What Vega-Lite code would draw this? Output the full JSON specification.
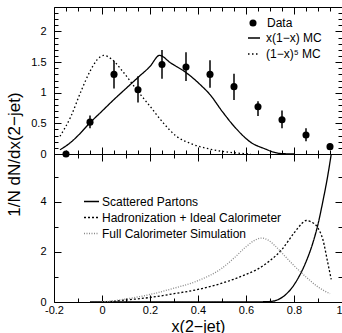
{
  "$schema": "https://vega.github.io/schema/vega-lite/v6.json",
  "padding": {"left": 5, "top": 6, "right": 2, "bottom": 0},
  "spacing": 0,
  "bounds": "flush",
  "config": {
    "view": {"stroke": null},
    "font": "Liberation Sans",
    "axis": {"domainColor": "black", "tickColor": "black", "domainWidth": 1, "tickWidth": 1, "labelFont": "Liberation Sans", "labelFontSize": 11, "labelColor": "black", "grid": false, "labelOverlap": false, "labelFlush": false, "titleFont": "Liberation Sans", "titleFontWeight": "normal", "titleColor": "black"},
    "legend": {"labelFont": "Liberation Sans", "labelColor": "black", "labelFontSize": 12, "padding": 0, "title": null, "labelLimit": 400}
  },
  "datasets": {
    "pts": [
      {"x": -0.15, "y": 0, "lo": 0, "hi": 0, "series": "Data"},
      {"x": -0.05, "y": 0.52, "lo": 0.42, "hi": 0.63, "series": "Data"},
      {"x": 0.05, "y": 1.30, "lo": 1.07, "hi": 1.52, "series": "Data"},
      {"x": 0.15, "y": 1.05, "lo": 0.84, "hi": 1.27, "series": "Data"},
      {"x": 0.25, "y": 1.46, "lo": 1.23, "hi": 1.70, "series": "Data"},
      {"x": 0.35, "y": 1.42, "lo": 1.19, "hi": 1.66, "series": "Data"},
      {"x": 0.45, "y": 1.30, "lo": 1.08, "hi": 1.53, "series": "Data"},
      {"x": 0.55, "y": 1.10, "lo": 0.88, "hi": 1.31, "series": "Data"},
      {"x": 0.65, "y": 0.77, "lo": 0.62, "hi": 0.86, "series": "Data"},
      {"x": 0.75, "y": 0.56, "lo": 0.42, "hi": 0.71, "series": "Data"},
      {"x": 0.85, "y": 0.31, "lo": 0.21, "hi": 0.42, "series": "Data"},
      {"x": 0.95, "y": 0.12, "lo": 0.08, "hi": 0.17, "series": "Data"}
    ],
    "mc": [
      {"x": -0.175, "y": 0.07, "series": "x(1−x) MC"},
      {"x": -0.14, "y": 0.16, "series": "x(1−x) MC"},
      {"x": -0.1, "y": 0.30, "series": "x(1−x) MC"},
      {"x": -0.05, "y": 0.51, "series": "x(1−x) MC"},
      {"x": 0.0, "y": 0.70, "series": "x(1−x) MC"},
      {"x": 0.05, "y": 0.89, "series": "x(1−x) MC"},
      {"x": 0.1, "y": 1.07, "series": "x(1−x) MC"},
      {"x": 0.15, "y": 1.25, "series": "x(1−x) MC"},
      {"x": 0.2, "y": 1.43, "series": "x(1−x) MC"},
      {"x": 0.24, "y": 1.61, "series": "x(1−x) MC"},
      {"x": 0.285, "y": 1.49, "series": "x(1−x) MC"},
      {"x": 0.35, "y": 1.33, "series": "x(1−x) MC"},
      {"x": 0.41, "y": 1.13, "series": "x(1−x) MC"},
      {"x": 0.45, "y": 0.97, "series": "x(1−x) MC"},
      {"x": 0.5, "y": 0.70, "series": "x(1−x) MC"},
      {"x": 0.56, "y": 0.41, "series": "x(1−x) MC"},
      {"x": 0.62, "y": 0.19, "series": "x(1−x) MC"},
      {"x": 0.675, "y": 0.09, "series": "x(1−x) MC"},
      {"x": 0.74, "y": 0.01, "series": "x(1−x) MC"},
      {"x": 0.8, "y": 0.0, "series": "x(1−x) MC"},
      {"x": -0.175, "y": 0.29, "series": "(1−x)⁵ MC"},
      {"x": -0.13, "y": 0.61, "series": "(1−x)⁵ MC"},
      {"x": -0.09, "y": 1.0, "series": "(1−x)⁵ MC"},
      {"x": -0.05, "y": 1.35, "series": "(1−x)⁵ MC"},
      {"x": -0.02, "y": 1.54, "series": "(1−x)⁵ MC"},
      {"x": 0.007, "y": 1.61, "series": "(1−x)⁵ MC"},
      {"x": 0.04, "y": 1.55, "series": "(1−x)⁵ MC"},
      {"x": 0.09, "y": 1.33, "series": "(1−x)⁵ MC"},
      {"x": 0.15, "y": 1.02, "series": "(1−x)⁵ MC"},
      {"x": 0.2, "y": 0.78, "series": "(1−x)⁵ MC"},
      {"x": 0.257, "y": 0.50, "series": "(1−x)⁵ MC"},
      {"x": 0.31, "y": 0.29, "series": "(1−x)⁵ MC"},
      {"x": 0.37, "y": 0.17, "series": "(1−x)⁵ MC"},
      {"x": 0.45, "y": 0.08, "series": "(1−x)⁵ MC"},
      {"x": 0.55, "y": 0.02, "series": "(1−x)⁵ MC"},
      {"x": 0.62, "y": 0.0, "series": "(1−x)⁵ MC"}
    ],
    "b": [
      {"x": -0.05, "y": 0, "series": "Scattered Partons"},
      {"x": 0.6, "y": 0, "series": "Scattered Partons"},
      {"x": 0.7, "y": 0.02, "series": "Scattered Partons"},
      {"x": 0.73, "y": 0.08, "series": "Scattered Partons"},
      {"x": 0.76, "y": 0.25, "series": "Scattered Partons"},
      {"x": 0.79, "y": 0.55, "series": "Scattered Partons"},
      {"x": 0.82, "y": 1.0, "series": "Scattered Partons"},
      {"x": 0.85, "y": 1.6, "series": "Scattered Partons"},
      {"x": 0.88, "y": 2.4, "series": "Scattered Partons"},
      {"x": 0.9, "y": 3.1, "series": "Scattered Partons"},
      {"x": 0.92, "y": 4.0, "series": "Scattered Partons"},
      {"x": 0.94, "y": 5.0, "series": "Scattered Partons"},
      {"x": 0.96, "y": 6.2, "series": "Scattered Partons"},
      {"x": 0.0, "y": 0, "series": "Hadronization + Ideal Calorimeter"},
      {"x": 0.05, "y": 0.03, "series": "Hadronization + Ideal Calorimeter"},
      {"x": 0.1, "y": 0.08, "series": "Hadronization + Ideal Calorimeter"},
      {"x": 0.2, "y": 0.18, "series": "Hadronization + Ideal Calorimeter"},
      {"x": 0.3, "y": 0.33, "series": "Hadronization + Ideal Calorimeter"},
      {"x": 0.4, "y": 0.5, "series": "Hadronization + Ideal Calorimeter"},
      {"x": 0.5, "y": 0.75, "series": "Hadronization + Ideal Calorimeter"},
      {"x": 0.6, "y": 1.1, "series": "Hadronization + Ideal Calorimeter"},
      {"x": 0.65, "y": 1.32, "series": "Hadronization + Ideal Calorimeter"},
      {"x": 0.7, "y": 1.65, "series": "Hadronization + Ideal Calorimeter"},
      {"x": 0.75, "y": 2.1, "series": "Hadronization + Ideal Calorimeter"},
      {"x": 0.8, "y": 2.75, "series": "Hadronization + Ideal Calorimeter"},
      {"x": 0.83, "y": 3.1, "series": "Hadronization + Ideal Calorimeter"},
      {"x": 0.85, "y": 3.25, "series": "Hadronization + Ideal Calorimeter"},
      {"x": 0.87, "y": 3.2, "series": "Hadronization + Ideal Calorimeter"},
      {"x": 0.9, "y": 2.95, "series": "Hadronization + Ideal Calorimeter"},
      {"x": 0.92, "y": 2.5, "series": "Hadronization + Ideal Calorimeter"},
      {"x": 0.94, "y": 1.6, "series": "Hadronization + Ideal Calorimeter"},
      {"x": 0.955, "y": 0.9, "series": "Hadronization + Ideal Calorimeter"},
      {"x": 0.0, "y": 0, "series": "Full Calorimeter Simulation"},
      {"x": 0.05, "y": 0.05, "series": "Full Calorimeter Simulation"},
      {"x": 0.1, "y": 0.12, "series": "Full Calorimeter Simulation"},
      {"x": 0.2, "y": 0.3, "series": "Full Calorimeter Simulation"},
      {"x": 0.3, "y": 0.55, "series": "Full Calorimeter Simulation"},
      {"x": 0.4, "y": 0.85, "series": "Full Calorimeter Simulation"},
      {"x": 0.5, "y": 1.35, "series": "Full Calorimeter Simulation"},
      {"x": 0.55, "y": 1.75, "series": "Full Calorimeter Simulation"},
      {"x": 0.6, "y": 2.2, "series": "Full Calorimeter Simulation"},
      {"x": 0.64, "y": 2.48, "series": "Full Calorimeter Simulation"},
      {"x": 0.665, "y": 2.55, "series": "Full Calorimeter Simulation"},
      {"x": 0.69, "y": 2.48, "series": "Full Calorimeter Simulation"},
      {"x": 0.72, "y": 2.25, "series": "Full Calorimeter Simulation"},
      {"x": 0.76, "y": 1.85, "series": "Full Calorimeter Simulation"},
      {"x": 0.8, "y": 1.45, "series": "Full Calorimeter Simulation"},
      {"x": 0.85, "y": 1.0, "series": "Full Calorimeter Simulation"},
      {"x": 0.9, "y": 0.6, "series": "Full Calorimeter Simulation"},
      {"x": 0.95, "y": 0.33, "series": "Full Calorimeter Simulation"}
    ]
  },
  "vconcat": [
    {
      "width": 288,
      "height": 147,
      "layer": [
        {
          "data": {"name": "mc"},
          "mark": {"type": "line", "color": "black", "strokeWidth": 1.3, "interpolate": "monotone"},
          "encoding": {
            "x": {"field": "x", "type": "quantitative", "scale": {"domain": [-0.2, 1], "nice": false, "zero": false},
              "axis": {"orient": "bottom", "title": null, "labels": false,
                "values": [-0.2, -0.15, -0.1, -0.05, 0, 0.05, 0.1, 0.15, 0.2, 0.25, 0.3, 0.35, 0.4, 0.45, 0.5, 0.55, 0.6, 0.65, 0.7, 0.75, 0.8, 0.85, 0.9, 0.95, 1],
                "tickSize": {"condition": {"test": "indexof([-0.2,0,0.2,0.4,0.6,0.8,1], datum.value) >= 0", "value": -7}, "value": -4}}},
            "y": {"field": "y", "type": "quantitative", "scale": {"domain": [0, 2.4], "nice": false},
              "axis": {"orient": "left", "title": "1/N dN/dx(2−jet)", "titleFontSize": 17, "titleX": -40, "titleY": 147, "titleAngle": -90, "titleAlign": "center", "titleBaseline": "middle",
                "values": [0, 0.1, 0.2, 0.3, 0.4, 0.5, 0.6, 0.7, 0.8, 0.9, 1, 1.1, 1.2, 1.3, 1.4, 1.5, 1.6, 1.7, 1.8, 1.9, 2, 2.1, 2.2, 2.3],
                "labelExpr": "indexof([0,0.5,1,1.5,2], datum.value) >= 0 ? '' + datum.value : ''",
                "labelPadding": 15,
                "tickSize": {"condition": {"test": "indexof([0,0.5,1,1.5,2], datum.value) >= 0", "value": -7}, "value": -4}}},
            "strokeDash": {"field": "series", "type": "nominal",
              "scale": {"domain": ["x(1−x) MC", "(1−x)⁵ MC"], "range": [[1, 0], [1.5, 2.5]]},
              "legend": {"orient": "none", "legendX": 193, "legendY": 24, "symbolType": "stroke", "symbolSize": 144, "symbolStrokeColor": "black", "symbolStrokeWidth": 1.3, "labelOffset": 5, "rowPadding": 3}}
          }
        },
        {
          "data": {"name": "pts"},
          "mark": {"type": "rule", "color": "black", "strokeWidth": 1.5},
          "encoding": {
            "x": {"field": "x", "type": "quantitative", "axis": null},
            "y": {"field": "lo", "type": "quantitative", "axis": null},
            "y2": {"field": "hi"}
          }
        },
        {
          "data": {"name": "pts"},
          "mark": {"type": "point", "filled": true, "color": "black", "size": 50, "opacity": 1},
          "encoding": {
            "x": {"field": "x", "type": "quantitative", "axis": null},
            "y": {"field": "y", "type": "quantitative", "axis": null},
            "shape": {"field": "series", "type": "nominal", "scale": {"domain": ["Data"], "range": ["circle"]},
              "legend": {"orient": "none", "legendX": 193, "legendY": 10, "symbolFillColor": "black", "symbolStrokeColor": "black", "symbolSize": 50, "labelOffset": 8}}
          }
        },
        {
          "mark": {"type": "text", "align": "left", "baseline": "middle", "fontSize": 13, "font": "Liberation Sans", "color": "black"},
          "encoding": {
            "x": {"datum": -0.167, "type": "quantitative", "axis": null},
            "y": {"datum": 2.19, "type": "quantitative", "axis": null},
            "text": {"value": "(a)"}
          }
        },
        {
          "mark": {"type": "text", "align": "left", "baseline": "middle", "fontSize": 13, "font": "Liberation Sans", "color": "black"},
          "encoding": {
            "x": {"datum": 0.042, "type": "quantitative", "axis": null},
            "y": {"datum": 2.2, "type": "quantitative", "axis": null},
            "text": {"value": "0.90<Xₚ<0.96"}
          }
        },
        {
          "data": {"name": "pts"},
          "mark": {"type": "point", "opacity": 0},
          "encoding": {
            "x": {"field": "x", "type": "quantitative",
              "axis": {"orient": "top", "title": null, "labels": false,
                "values": [-0.2, -0.15, -0.1, -0.05, 0, 0.05, 0.1, 0.15, 0.2, 0.25, 0.3, 0.35, 0.4, 0.45, 0.5, 0.55, 0.6, 0.65, 0.7, 0.75, 0.8, 0.85, 0.9, 0.95, 1],
                "tickSize": {"condition": {"test": "indexof([-0.2,0,0.2,0.4,0.6,0.8,1], datum.value) >= 0", "value": -7}, "value": -4}}},
            "y": {"field": "y", "type": "quantitative",
              "axis": {"orient": "right", "title": null, "labels": false,
                "values": [0, 0.1, 0.2, 0.3, 0.4, 0.5, 0.6, 0.7, 0.8, 0.9, 1, 1.1, 1.2, 1.3, 1.4, 1.5, 1.6, 1.7, 1.8, 1.9, 2, 2.1, 2.2, 2.3],
                "tickSize": {"condition": {"test": "indexof([0,0.5,1,1.5,2], datum.value) >= 0", "value": -7}, "value": -4}}}
          }
        }
      ],
      "resolve": {"axis": {"x": "independent", "y": "independent"}}
    },
    {
      "width": 288,
      "height": 148,
      "layer": [
        {
          "data": {"name": "b"},
          "mark": {"type": "line", "strokeWidth": 1.3, "interpolate": "monotone", "clip": true},
          "encoding": {
            "x": {"field": "x", "type": "quantitative", "scale": {"domain": [-0.2, 1], "nice": false, "zero": false},
              "axis": {"orient": "bottom", "title": "x(2−jet)", "titleFontSize": 16, "titlePadding": 0,
                "values": [-0.2, -0.1, 0, 0.1, 0.2, 0.3, 0.4, 0.5, 0.6, 0.7, 0.8, 0.9, 1],
                "labelExpr": "indexof([-0.2,0,0.2,0.4,0.6,0.8,1], datum.value) >= 0 ? '' + datum.value : ''",
                "labelAlign": {"condition": {"test": "datum.value == 1", "value": "right"}, "value": "center"},
                "labelPadding": 9,
                "tickSize": {"condition": {"test": "indexof([-0.2,0,0.2,0.4,0.6,0.8,1], datum.value) >= 0", "value": -7}, "value": -4}}},
            "y": {"field": "y", "type": "quantitative", "scale": {"domain": [0, 5.9], "nice": false},
              "axis": {"orient": "left", "title": null,
                "values": [0, 1, 2, 3, 4, 5],
                "labelExpr": "indexof([0,2,4], datum.value) >= 0 ? '' + datum.value : ''",
                "labelPadding": 15,
                "tickSize": {"condition": {"test": "indexof([0,2,4], datum.value) >= 0", "value": -7}, "value": -4}}},
            "color": {"field": "series", "type": "nominal",
              "scale": {"domain": ["Scattered Partons", "Hadronization + Ideal Calorimeter", "Full Calorimeter Simulation"], "range": ["black", "black", "#8a8a8a"]},
              "legend": {"orient": "none", "legendX": 29, "legendY": 39, "symbolType": "stroke", "symbolSize": 225, "symbolStrokeWidth": 1.3, "labelOffset": 2, "rowPadding": 1}},
            "strokeDash": {"field": "series", "type": "nominal",
              "scale": {"domain": ["Scattered Partons", "Hadronization + Ideal Calorimeter", "Full Calorimeter Simulation"], "range": [[1, 0], [2, 2], [1, 1.5]]},
              "legend": {"orient": "none", "legendX": 29, "legendY": 39, "symbolType": "stroke", "symbolSize": 225, "symbolStrokeWidth": 1.3, "labelOffset": 2, "rowPadding": 1}}
          }
        },
        {
          "mark": {"type": "text", "align": "left", "baseline": "middle", "fontSize": 13, "font": "Liberation Sans", "color": "black"},
          "encoding": {
            "x": {"datum": -0.167, "type": "quantitative", "axis": null},
            "y": {"datum": 5.38, "type": "quantitative", "axis": null},
            "text": {"value": "(b)"}
          }
        },
        {
          "mark": {"type": "text", "align": "left", "baseline": "middle", "fontSize": 13, "font": "Liberation Sans", "color": "black"},
          "encoding": {
            "x": {"datum": 0.096, "type": "quantitative", "axis": null},
            "y": {"datum": 4.66, "type": "quantitative", "axis": null},
            "text": {"value": "Xₚ=0.93"}
          }
        },
        {
          "data": {"name": "b"},
          "mark": {"type": "point", "opacity": 0},
          "encoding": {
            "x": {"field": "x", "type": "quantitative",
              "axis": {"orient": "top", "title": null, "labels": false,
                "values": [-0.2, -0.1, 0, 0.1, 0.2, 0.3, 0.4, 0.5, 0.6, 0.7, 0.8, 0.9, 1],
                "tickSize": {"condition": {"test": "indexof([-0.2,0,0.2,0.4,0.6,0.8,1], datum.value) >= 0", "value": -7}, "value": -4}}},
            "y": {"field": "y", "type": "quantitative",
              "axis": {"orient": "right", "title": null, "labels": false,
                "values": [0, 1, 2, 3, 4, 5],
                "tickSize": {"condition": {"test": "indexof([0,2,4], datum.value) >= 0", "value": -7}, "value": -4}}}
          }
        }
      ],
      "resolve": {"axis": {"x": "independent", "y": "independent"}}
    }
  ],
  "resolve": {"scale": {"color": "independent", "strokeDash": "independent", "shape": "independent", "x": "independent", "y": "independent"}, "legend": {"color": "independent", "strokeDash": "independent", "shape": "independent"}}
}
